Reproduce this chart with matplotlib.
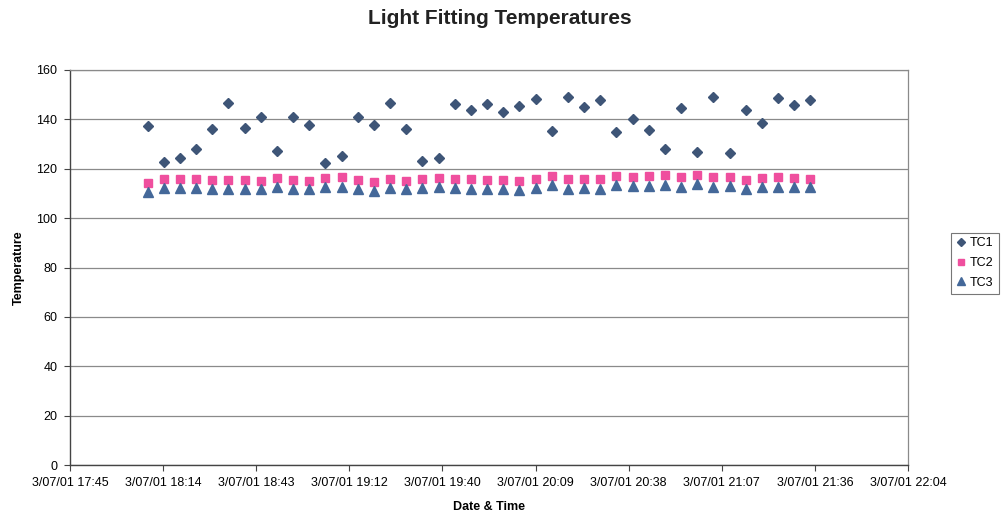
import matplotlib
matplotlib.use("Agg")
import matplotlib.pyplot as plt
import matplotlib.dates as mdates
import pandas as pd
from datetime import datetime, timedelta

plt.rcParams['font.family'] = ['Liberation Sans', 'DejaVu Sans']

# Readings taken every 5 minutes on 3 July 2001
start_time = datetime(2001, 7, 3, 18, 9)
times = list(pd.date_range(start_time, periods=42, freq="5min"))

tc1 = [137.3, 122.9, 124.4, 127.9, 136.2, 146.6, 136.4, 140.9, 127.2, 140.9,
       137.7, 122.4, 125.1, 140.9, 137.9, 146.6, 136.2, 123.1, 124.4, 146.4,
       143.7, 146.2, 142.9, 145.6, 148.3, 135.2, 148.9, 145.0, 147.9, 134.8,
       140.3, 135.6, 127.9, 144.5, 126.8, 149.2, 126.4, 143.7, 138.4, 148.7,
       145.8, 147.7]
tc2 = [114.3, 115.9, 115.9, 115.9, 115.4, 115.6, 115.4, 115.2, 116.2, 115.4,
       115.0, 116.3, 116.6, 115.4, 114.7, 116.0, 115.2, 115.9, 116.3, 115.9,
       115.9, 115.4, 115.5, 115.2, 115.9, 117.0, 116.0, 116.0, 115.8, 117.0,
       116.6, 117.0, 117.4, 116.6, 117.4, 116.6, 116.7, 115.6, 116.3, 116.7,
       116.3, 116.0]
tc3 = [110.5, 112.3, 112.3, 112.3, 111.9, 111.9, 112.0, 111.9, 112.5, 112.0,
       111.9, 112.7, 112.7, 112.0, 110.9, 112.3, 111.6, 112.3, 112.7, 112.3,
       112.0, 111.6, 111.6, 111.3, 112.3, 113.3, 112.0, 112.3, 112.0, 113.3,
       112.9, 112.9, 113.6, 112.7, 113.9, 112.7, 112.9, 111.6, 112.7, 112.7,
       112.7, 112.7]

x_tick_labels = ["3/07/01 17:45", "3/07/01 18:14", "3/07/01 18:43",
                 "3/07/01 19:12", "3/07/01 19:40", "3/07/01 20:09",
                 "3/07/01 20:38", "3/07/01 21:07", "3/07/01 21:36",
                 "3/07/01 22:04"]
y_ticks = [0, 20, 40, 60, 80, 100, 120, 140, 160]

axis_start = datetime(2001, 7, 3, 17, 45)
major_step = timedelta(minutes=28.8)
x_ticks = [axis_start + i * major_step for i in range(len(x_tick_labels))]

fig = plt.figure(figsize=(10.03, 5.16), dpi=100)
ax = fig.add_axes([70 / 1003, 51 / 516, 838 / 1003, 395 / 516])

c1 = '#3e5577'
c2 = '#ef4f9e'
c3 = '#446899'

ax.plot(times, tc1, linestyle='none', marker='D', markersize=5,
        color=c1, label='TC1', zorder=3)
ax.plot(times, tc2, linestyle='none', marker='s', markersize=5.5,
        color=c2, label='TC2', zorder=3)
ax.plot(times, tc3, linestyle='none', marker='^', markersize=6.5,
        color=c3, label='TC3', zorder=3)

ax.set_xlim(mdates.date2num(x_ticks[0]), mdates.date2num(x_ticks[-1]))
ax.set_ylim(0, 160)
ax.set_xticks([mdates.date2num(t) for t in x_ticks])
ax.set_xticklabels(x_tick_labels, fontsize=9)
ax.set_yticks(y_ticks)
ax.set_yticklabels([str(v) for v in y_ticks], fontsize=9)

ax.grid(axis='y', color='#8a8a8a', linewidth=0.9)
ax.set_axisbelow(True)
for side in ('top', 'right'):
    ax.spines[side].set_color('#8a8a8a')
    ax.spines[side].set_linewidth(0.9)
for side in ('left', 'bottom'):
    ax.spines[side].set_color('#444444')
    ax.spines[side].set_linewidth(1.0)
ax.tick_params(axis='both', direction='out', length=4, width=0.8,
               color='#444444', pad=5)

ax.set_xlabel('Date & Time', fontsize=9, fontweight='bold', labelpad=8)
ax.set_ylabel('Temperature', fontsize=9, fontweight='bold')
ax.yaxis.set_label_coords(-45 / 838, 0.5)

fig.text(500 / 1003, 1 - 18 / 516, 'Light Fitting Temperatures',
         fontsize=15, fontweight='bold', ha='center', va='center',
         color='#222222')

leg = fig.legend(loc='center', bbox_to_anchor=(975 / 1003, 1 - 263 / 516),
                 fontsize=9, frameon=True, fancybox=False, handlelength=0.8,
                 handletextpad=0.3, borderpad=0.4, labelspacing=0.6,
                 borderaxespad=0, markerscale=0.9)
leg.get_frame().set_edgecolor('#555555')
leg.get_frame().set_linewidth(0.8)

fig.savefig('out.png', dpi=100, facecolor='white')
